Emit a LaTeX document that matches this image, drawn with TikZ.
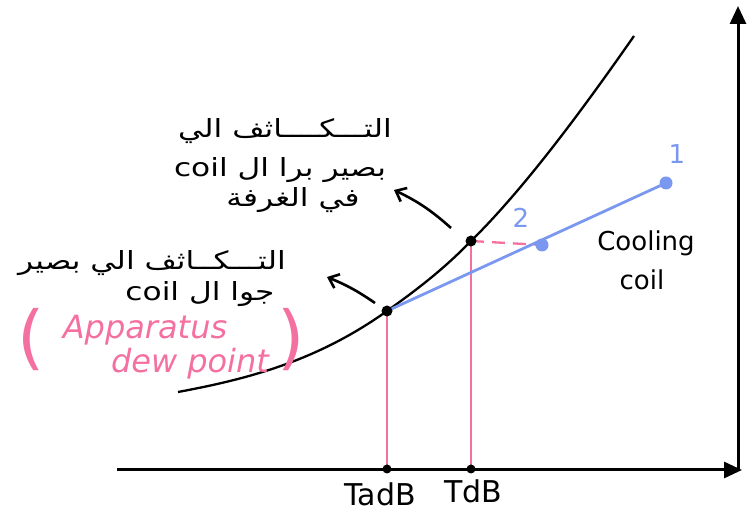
\documentclass[tikz,border=0pt]{standalone}
\usepackage{fontspec}
\setmainfont{DejaVu Sans}
\newfontfamily\arabicfont[Script=Arabic,FakeStretch=1.25]{DejaVu Sans}
\TeXXeTstate=1
\usetikzlibrary{arrows.meta}
\definecolor{cblue}{RGB}{122,152,240}
\definecolor{cpink}{RGB}{244,112,160}
\tikzset{
  axis/.style={line width=3pt,-{Triangle[length=18pt,width=16pt]}},
  curve/.style={line width=2.3pt},
  bline/.style={line width=2.8pt,cblue},
  pline/.style={line width=2.3pt,cpink},
  note/.style={line width=2.6pt,-{Straight Barb[length=9pt,width=15pt]}},
  ar/.style={font=\arabicfont\fontsize{25}{28}\selectfont,inner sep=0pt},
  lat/.style={font=\fontsize{26}{30}\selectfont,inner sep=0pt},
  big/.style={font=\fontsize{30}{34}\selectfont,inner sep=0pt},
  pk/.style={font=\itshape\fontsize{32}{36}\selectfont,inner sep=0pt,text=cpink},
  paren/.style={font=\fontsize{70}{70}\selectfont,inner sep=0pt,text=cpink},
  bdot/.style={circle,fill=cblue,inner sep=0pt,minimum size=13pt},
  kdot/.style={circle,fill=black,inner sep=0pt,minimum size=11pt},
  sdot/.style={circle,fill=black,inner sep=0pt,minimum size=9pt}
}
\begin{document}
\begin{tikzpicture}[x=1pt,y=-1pt]
\useasboundingbox (0,0) rectangle (756,526);
% axes
\coordinate (o) at (738,470);
\coordinate (xs) at (117,470);
\coordinate (xe) at (742,470);
\coordinate (ye) at (738,6);
\draw[axis] (xs) -- (xe);
\draw[axis] (o) -- (ye);
% saturation curve
\coordinate (c0) at (178,392);
\coordinate (A) at (387,311);
\coordinate (B) at (471,241);
\coordinate (c4) at (634,36);
\draw[curve] (c0) .. controls (248,379) and (317,361) .. (A)
  .. controls (415,291) and (443,270) .. (B)
  .. controls (523,190) and (581,112) .. (c4);
% process points
\coordinate (P2) at (542,245);
\coordinate (P1) at (666,183);
\coordinate (tA) at (387,469);
\coordinate (tB) at (471,469);
\draw[pline] (A) -- (tA);
\draw[pline] (B) -- (tB);
\draw[pline,dash pattern=on 13pt off 8pt] (B) -- (P2);
\draw[bline] (A) -- (P1);
\node[bdot] (n2) at (P2) {};
\node[bdot] (n1) at (P1) {};
\node[kdot] (nA) at (A) {};
\node[kdot] (nB) at (B) {};
\node[sdot] (ntA) at (tA) {};
\node[sdot] (ntB) at (tB) {};
% labels
\node[lat,text=cblue] (l1) at (677,154) {1};
\node[lat,text=cblue] (l2) at (521,218) {2};
\node[lat] (cool1) at (646,243) {Cooling};
\node[lat] (cool2) at (642,280) {coil};
\node[big] (tadb) at (380,494) {TadB};
\node[big] (tdb) at (473,491) {TdB};
% Arabic note 1
\node[ar] (a11) at (285,131) {\beginR التـــكــــاثف الي\endR};
\node[ar] (a12) at (280,170) {\beginR بصير برا ال \beginL coil\endL\endR};
\node[ar] (a13) at (293,200) {\beginR في الغرفة\endR};
% Arabic note 2
\node[ar] (a21) at (152,263) {\beginR التـــكــاثف الي بصير\endR};
\node[ar] (a22) at (200,294) {\beginR جوا ال \beginL coil\endL\endR};
% pink note
\node[paren] (pl) at (31,340) {(};
\node[pk] (pa) at (145,330) {Apparatus};
\node[pk] (pd) at (190,364) {dew point};
\node[paren] (pr) at (291,340) {)};
% note arrows
\coordinate (s1) at (451,228);
\coordinate (e1) at (394,190);
\coordinate (s2) at (375,303);
\coordinate (e2) at (327,277);
\draw[note] (s1) to[bend right=8] (e1);
\draw[note] (s2) to[bend right=6] (e2);
\end{tikzpicture}
\end{document}
